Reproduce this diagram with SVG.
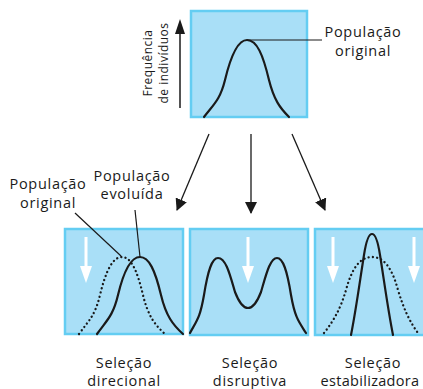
<svg xmlns="http://www.w3.org/2000/svg" width="423" height="389" viewBox="0 0 423 389">
<style>
.box{fill:#a9dff7;stroke:#64cdf2;stroke-width:2.5}
.c{fill:none;stroke:#1a1a1a;stroke-width:2.2;stroke-linecap:round}
.d{fill:none;stroke:#1a1a1a;stroke-width:2.3;stroke-dasharray:0.1,4.2;stroke-linecap:round}
.l{fill:none;stroke:#1a1a1a;stroke-width:1.2}
.t{font-family:"Open Sans","Noto Sans",sans-serif;font-size:14.5px;letter-spacing:0.7px;fill:#1a1a1a;text-anchor:middle}
.s{font-family:"Open Sans","Noto Sans",sans-serif;font-size:12px;letter-spacing:0.5px;fill:#1a1a1a;text-anchor:middle}
.w{stroke:#ffffff;stroke-width:3}
.wh{fill:#ffffff}
</style>
<defs>
<marker id="ah" markerWidth="12" markerHeight="12" refX="11" refY="6" orient="auto" markerUnits="userSpaceOnUse" viewBox="0 0 12 12">
<path d="M0,0 L12,6 L0,12 Z" fill="#1a1a1a"/>
</marker>
</defs>
<g id="top">
<rect class="box" x="191" y="11" width="116" height="106"/>
<path class="c" d="M204,117 C214,104 220,100 225,80 C231,55 238,40 247,40 C257,40 263,55 269,80 C274,100 280,108 289,117"/>
<path class="l" d="M247,40 L322,40"/>
<text class="t" x="363" y="37">População</text>
<text class="t" x="363" y="56">original</text>
<path d="M180,108 L180,30" stroke="#1a1a1a" stroke-width="1.5"/>
<path d="M175,34 L180,19 L185,34 Z" fill="#1a1a1a"/>
<text class="s" transform="translate(152,63) rotate(-90)">Frequência</text>
<text class="s" transform="translate(168,63) rotate(-90)">de indivíduos</text>
</g>
<g id="connectors">
<path d="M209,134 L177,210" stroke="#1a1a1a" stroke-width="1.3" marker-end="url(#ah)"/>
<path d="M251,134 L251,213" stroke="#1a1a1a" stroke-width="1.3" marker-end="url(#ah)"/>
<path d="M292,134 L325,210" stroke="#1a1a1a" stroke-width="1.3" marker-end="url(#ah)"/>
</g>
<g id="direcional">
<rect class="box" x="65" y="229" width="118" height="105"/>
<path class="w" d="M86,237 L86,268"/>
<path class="wh" d="M80,266 L92,266 L86,283 Z"/>
<path class="d" d="M79,334 C89,320 95,316 100,295 C106,270 113,257 122,257 C131,257 137,270 143,295 C148,316 155,325 165,334"/>
<path class="c" d="M97,334 C107,320 113,316 118,295 C124,270 131,257 140,257 C149,257 155,270 161,295 C166,316 173,325 183,334"/>
<path class="l" d="M75,213 L121,256"/>
<path class="l" d="M135,210 L140,257"/>
<text class="t" x="48" y="189">População</text>
<text class="t" x="48" y="208">original</text>
<text class="t" x="132" y="181">População</text>
<text class="t" x="132" y="199">evoluída</text>
<text class="t" x="124" y="368">Seleção</text>
<text class="t" x="124" y="386">direcional</text>
</g>
<g id="disruptiva">
<rect class="box" x="190" y="229" width="118" height="106"/>
<path class="w" d="M248,237 L248,268"/>
<path class="wh" d="M242,266 L254,266 L248,283 Z"/>
<path class="c" d="M190,333 C197,320 200,318 204,295 C208,270 212,258 218,258 C226,258 230,275 235,292 C240,305 244,308 248,308 C252,308 256,305 261,292 C266,275 270,258 277,258 C283,258 287,270 291,295 C295,318 299,322 306,333"/>
<text class="t" x="250" y="368">Seleção</text>
<text class="t" x="250" y="386">disruptiva</text>
</g>
<g id="estabilizadora">
<rect class="box" x="315" y="229" width="118" height="106"/>
<path class="w" d="M333,237 L333,268"/>
<path class="wh" d="M327,266 L339,266 L333,283 Z"/>
<path class="w" d="M414,237 L414,268"/>
<path class="wh" d="M408,266 L420,266 L414,283 Z"/>
<path class="d" d="M324,333 C334,320 340,310 346,290 C352,268 360,257 372,257 C384,257 392,268 398,290 C404,310 410,322 418,333"/>
<path class="c" d="M351,335 C356,310 360,280 364,255 C366,242 369,234 372,234 C375,234 378,242 380,255 C384,280 388,310 393,335"/>
<text class="t" x="373" y="368">Seleção</text>
<text class="t" x="370" y="386" style="letter-spacing:0.3px">estabilizadora</text>
</g>
</svg>
